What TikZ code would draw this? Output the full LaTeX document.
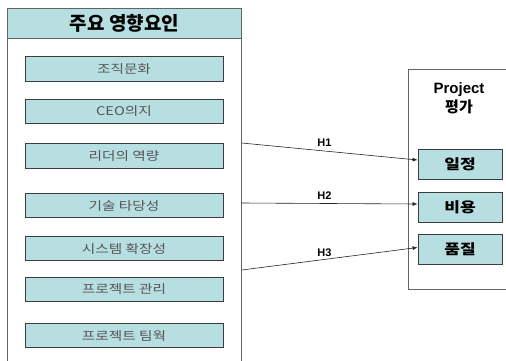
\documentclass[tikz,border=0pt]{standalone}
\usepackage{fontspec}
\setmainfont{Liberation Sans}
\newfontfamily\kr{Noto Sans CJK KR}
\newfontfamily\krw[FakeStretch=1.22]{Noto Sans CJK KR}
\usetikzlibrary{arrows.meta,calc}
\definecolor{teal1}{RGB}{183,222,224}
\definecolor{txtgray}{RGB}{85,85,85}
\definecolor{edge}{RGB}{60,60,60}
\begin{document}
\begin{tikzpicture}[x=1pt,y=-1pt,
  panel/.style={draw=edge!80, line width=0.8pt, inner sep=0pt, anchor=north west},
  item/.style={draw=edge, fill=teal1, line width=0.8pt, minimum width=198pt, minimum height=24.5pt, inner sep=0pt, font=\krw\fontsize{12}{14}\selectfont, text=txtgray},
  res/.style={draw=edge, fill=teal1, line width=0.8pt, minimum width=84pt, minimum height=30pt, inner sep=0pt, font=\krw\bfseries\fontsize{14}{16}\selectfont},
  hyp/.style={-{Latex[length=5pt,width=4pt]}, line width=0.6pt, draw=black!85},
  lbl/.style={font=\bfseries\fontsize{11}{13}\selectfont, inner sep=1pt}]
\useasboundingbox (0,0) rectangle (506,360);
\fill[white] (0,0) rectangle (506,360);
\clip (0,0) rectangle (506,360);
% left panel
\node[panel, minimum width=234pt, minimum height=400pt] (L) at (7,8) {};
\node[panel, fill=teal1, minimum width=234pt, minimum height=30pt,
      font=\kr\bfseries\fontsize{19}{22}\selectfont] (LH) at (7,8) {주요 영향요인};
\node[item] (a1) at (124,69) {조직문화};
\node[item] (a2) at (124,111.5) {CEO의지};
\node[item] (a3) at (124,156) {리더의 역량};
\node[item] (a4) at (124,205.5) {기술 타당성};
\node[item] (a5) at (124,248.5) {시스템 확장성};
\node[item] (a6) at (124,289.5) {프로젝트 관리};
\node[item] (a7) at (124,335.5) {프로젝트 팀웍};
% right panel
\node[panel, minimum width=110pt, minimum height=220pt] (R) at (408,69) {};
\node[font=\bfseries\fontsize{15}{19}\selectfont, align=center] (RT) at (459,98) {Project\\{\kr\fontsize{15}{19}\selectfont 평가}};
\node[res] (b1) at (460,164) {일정};
\node[res] (b2) at (460,207) {비용};
\node[res] (b3) at (460,249.5) {품질};
% hypotheses
\coordinate (s1) at ($(L.north east)+(0,135)$);
\coordinate (s2) at ($(L.north east)+(0,195)$);
\coordinate (s3) at ($(L.north east)+(0,262)$);
\draw[hyp] (s1) -- ([yshift=4pt]b1.west) node[lbl, pos=0.47, above=3pt] {H1};
\draw[hyp] (s2) -- ([yshift=3pt]b2.west) node[lbl, pos=0.47, above=3pt] {H2};
\draw[hyp] (s3) -- ([yshift=2pt]b3.west) node[lbl, pos=0.47, above=2pt] {H3};
\end{tikzpicture}
\end{document}
